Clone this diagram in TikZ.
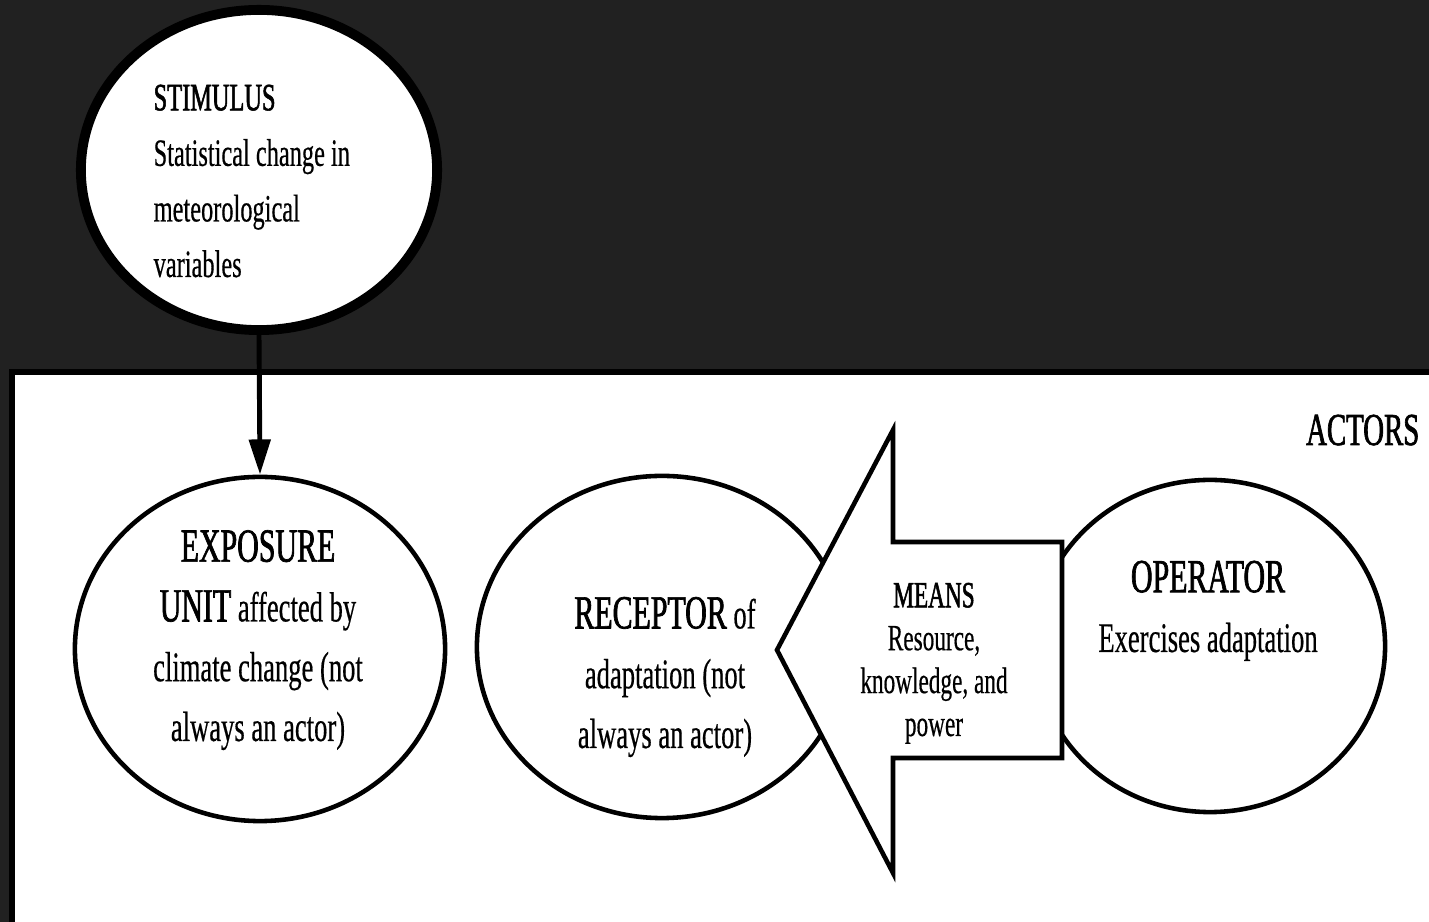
\documentclass[tikz,border=0pt]{standalone}
\usepackage{fontspec}
\setmainfont{Liberation Serif}[FakeStretch=0.63, FakeBold=0.4]
\newfontfamily\heavyface{Liberation Serif}[FakeStretch=0.63, FakeBold=1.4]
\usetikzlibrary{arrows.meta,shapes.geometric}
\definecolor{backdrop}{HTML}{212121}
\newcommand{\keyterm}[1]{{\heavyface\fontsize{13.5}{17}\selectfont #1}}

\begin{document}
\begin{tikzpicture}[x=0.01cm, y=-0.01cm,
  blob/.style={ellipse, draw, fill=white, line width=1.3pt, inner sep=0pt},
  lbl/.style={align=center, inner sep=0pt, font=\fontsize{12}{17}\selectfont},
  flow/.style={-{Triangle[width=6pt, length=10pt]}, line width=1.4pt}
]
  \useasboundingbox (0,0) rectangle (1429,922);
  \fill[backdrop] (0,0) rectangle (1429,922);
  \clip (0,0) rectangle (1429,922);
  \draw[fill=white, line width=1.7pt] (12,372) rectangle (1460,940);

  \node[blob, line width=2.8pt, minimum width=3.56cm, minimum height=3.2cm] (stimulus) at (259,170) {};
  \node[blob, minimum width=3.7cm, minimum height=3.44cm] (exposure) at (260,649) {};
  \node[blob, minimum width=3.7cm, minimum height=3.42cm] (receptor) at (662,647) {};
  \node[blob, minimum width=3.5cm, minimum height=3.32cm] (operator) at (1210,646) {};
  \draw[flow] (stimulus.south) -- (exposure.north);

  \draw[fill=white, line width=1.3pt, line join=miter] (777,650) -- (893,430) -- (893,542)
    -- (1062,542) -- (1062,758) -- (893,758) -- (893,873) -- cycle;

  \node[lbl, anchor=base west, align=left, font=\fontsize{11}{15.8}\selectfont] (stimtext) at (153,277)
    {{\heavyface STIMULUS}\\Statistical change in\\meteorological\\variables};
  \node[lbl, anchor=base] (exptext) at (258,741)
    {\keyterm{EXPOSURE}\\\keyterm{UNIT} affected by\\climate change (not\\always an actor)};
  \node[lbl, anchor=base] (rectext) at (665,748)
    {\keyterm{RECEPTOR} of\\adaptation (not\\always an actor)};
  \node[lbl, anchor=base, font=\fontsize{10.5}{12.2}\selectfont] (meanstext) at (934,736)
    {{\heavyface MEANS}\\Resource,\\knowledge, and\\power};
  \node[lbl, anchor=base] (optext) at (1208,652)
    {\keyterm{OPERATOR}\\Exercises adaptation};
  \node[lbl, anchor=base east, font=\heavyface\fontsize{13}{15}\selectfont] (actors) at (1420,445) {ACTORS};
\end{tikzpicture}
\end{document}
